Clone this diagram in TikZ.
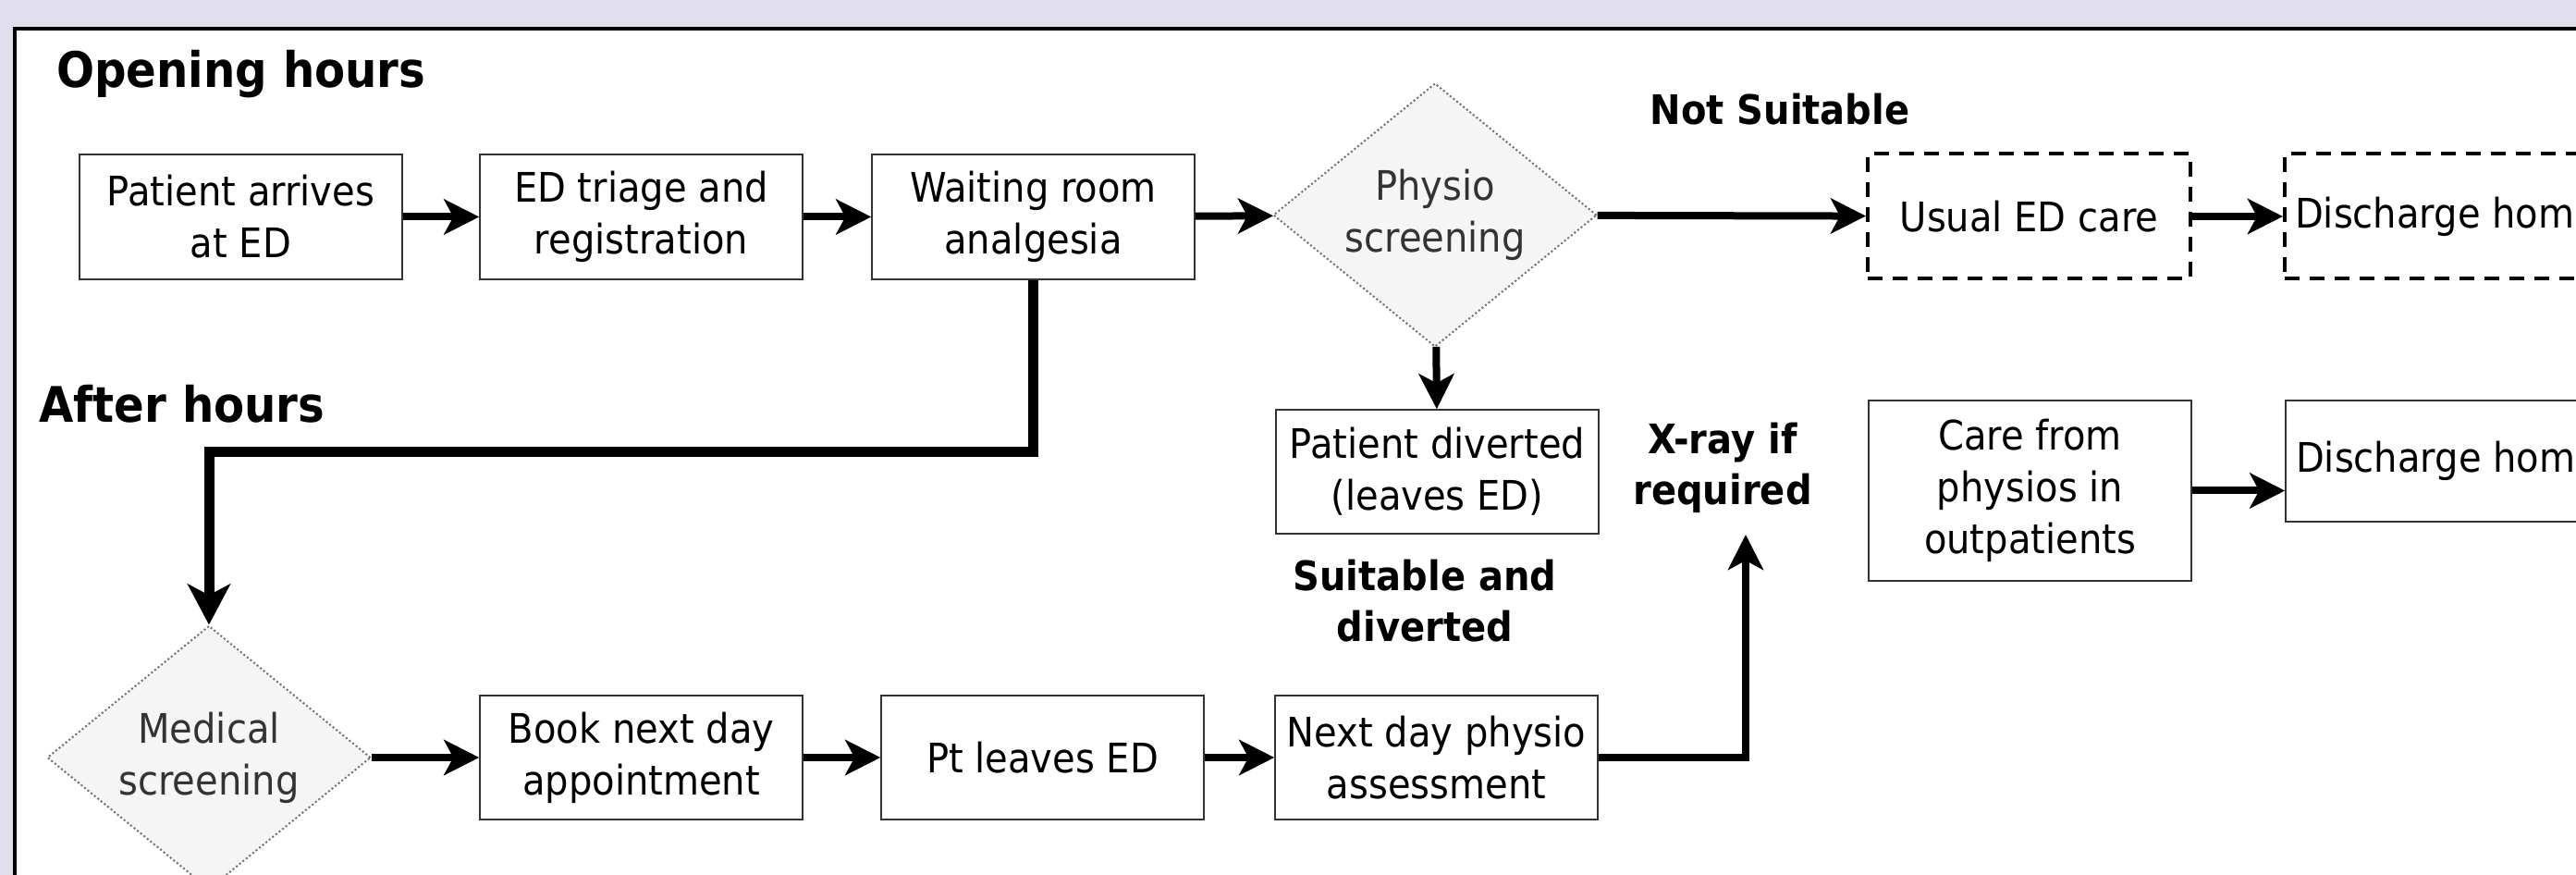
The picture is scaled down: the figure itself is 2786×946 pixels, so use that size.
\documentclass[tikz,border=0pt]{standalone}
\usepackage{fontspec}
\setmainfont{DejaVu Sans}[FakeStretch=0.91]
\usetikzlibrary{shapes.geometric,arrows.meta}
\definecolor{bgl}{HTML}{E1DFEE}
\definecolor{dfill}{HTML}{F5F5F5}
\definecolor{dtext}{HTML}{333333}
\definecolor{dline}{HTML}{707070}
\begin{document}
\begin{tikzpicture}[x=0.5pt,y=-0.5pt,
  box/.style={draw=black!80, line width=0.75pt, fill=white, minimum width=174.5pt, minimum height=67.5pt, inner sep=0pt, align=center, font=\fontsize{22pt}{28pt}\selectfont},
  dbox/.style={box, draw=black, line width=2pt, dash pattern=on 8pt off 5.5pt},
  dec/.style={diamond, draw=dline, line width=1pt, dash pattern=on 1pt off 1.3pt, fill=dfill, text=dtext, minimum width=175pt, minimum height=142.5pt, inner sep=0pt, aspect=1.23, align=center, font=\fontsize{22pt}{28pt}\selectfont},
  head/.style={font=\fontsize{26.5pt}{32pt}\selectfont\bfseries, inner sep=0pt},
  lab/.style={font=\fontsize{22pt}{27.5pt}\selectfont\bfseries, inner sep=0pt, align=center},
  flow/.style={line width=4pt, -{Stealth[length=19pt,width=19pt,inset=5pt]}},
  bigflow/.style={line width=5.5pt, -{Stealth[length=22pt,width=23pt,inset=6pt]}},
]
\useasboundingbox (0,0) rectangle (2786,946);
\clip (0,0) rectangle (2786,946);
\fill[bgl] (0,0) rectangle (2786,946);
\draw[line width=2pt, fill=white] (16,31.5) rectangle (2900,1050);

% headings and labels
\node[head, anchor=base west] (oh) at (61,95) {Opening hours};
\node[head, anchor=base west] (ah) at (42,457) {After hours};
\node[lab, anchor=base] (ns) at (1925,135) {Not Suitable};
\node[lab] (xr) at (1863,506) {X-ray if\\required};
\node[lab] (sd) at (1541,650) {Suitable and\\diverted};

% top row
\node[box] (pa) at (260.5,234.5) {Patient arrives\\at ED};
\node[box] (tri) at (693.5,234.5) {ED triage and\\registration};
\node[box] (wait) at (1117.5,234.5) {Waiting room\\analgesia};
\node[dec] (phys) at (1552,232.5) {Physio\\screening};
\node[dbox] (ned) at (2194.5,234) {Usual ED care};
\node[dbox] (dh1) at (2645.5,234) {Discharge home};

% middle
\node[box, minimum height=67pt] (div) at (1554.5,510) {Patient diverted\\(leaves ED)};
\node[box, minimum height=97.5pt] (care) at (2195.5,530.5) {Care from\\physios in\\outpatients};
\node[box, minimum height=65.5pt] (dh2) at (2646.5,498.5) {Discharge home};

% bottom row
\node[dec] (med) at (226,819) {Medical\\screening};
\node[box, minimum height=67pt] (book) at (693.5,819) {Book next day\\appointment};
\node[box, minimum height=67pt] (pt) at (1127.5,819) {Pt leaves ED};
\node[box, minimum height=67pt] (nxt) at (1553.5,819) {Next day physio\\assessment};

\coordinate (bend) at (226,489);
\coordinate (xtip) at (1888,578);

% connectors
\draw[flow] (pa) -- (tri);
\draw[flow] (tri) -- (wait);
\draw[flow] (wait) -- (phys);
\draw[flow] (phys) -- (ned);
\draw[flow] (ned) -- (dh1);
\draw[flow] (phys) -- (div);
\draw[bigflow] (wait.south) |- (bend) -- (med.north);
\draw[flow] (med) -- (book);
\draw[flow] (book) -- (pt);
\draw[flow] (pt) -- (nxt);
\draw[flow] (nxt.east) -| (xtip);
\draw[flow] (care.east) -- (care.east -| dh2.west);
\end{tikzpicture}
\end{document}
